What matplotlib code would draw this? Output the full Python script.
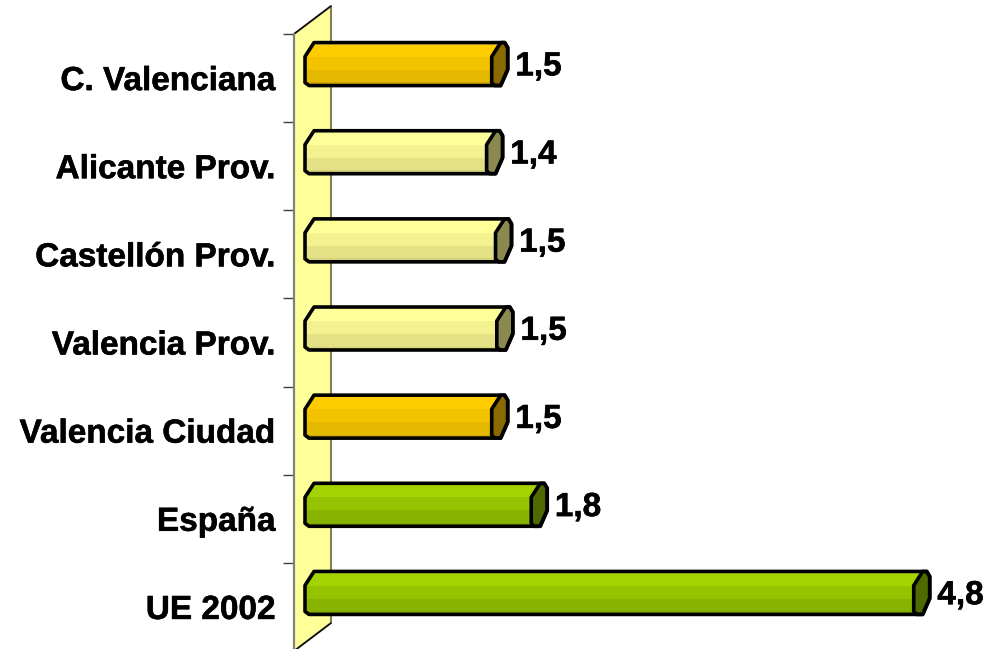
import numpy as np
import matplotlib
matplotlib.use('Agg')
import matplotlib.pyplot as plt
import matplotlib.patheffects as pe
from matplotlib.patches import Polygon

plt.rcParams['font.family'] = ['Liberation Sans', 'DejaVu Sans']

# Data
categories = ['C. Valenciana', 'Alicante Prov.', 'Castellón Prov.', 'Valencia Prov.',
              'Valencia Ciudad', 'España', 'UE 2002']
values = [1.48, 1.44, 1.51, 1.52, 1.48, 1.79, 4.79]
value_labels = ['1,5', '1,4', '1,5', '1,5', '1,5', '1,8', '4,8']
groups = ['orange', 'pale', 'pale', 'pale', 'orange', 'green', 'green']

# colours: bands from top to bottom, then end cap
bands = {
    'orange': ['#FFDB4D', '#FFCC00', '#F4C300', '#E4B900', '#D0A600'],
    'pale': ['#FFFFB0', '#FFFF99', '#F3F190', '#E3E086', '#D5D27A'],
    'green': ['#B4DE1E', '#A3D300', '#94C400', '#88B400', '#7FA800'],
}
caps = {'orange': '#8A6A00', 'pale': '#8A8A50', 'green': '#4F6B00'}

W, H = 985, 649
PX_X = 127.5   # pixels for one unit of value
PX_Y = 88.2    # pixels for one category

fig = plt.figure(figsize=(W / 100, H / 100), dpi=100)
# axes is the front plane of the chart
ax = fig.add_axes([294 / W, 1 - 651 / H, (W - 294) / W, 617 / H])
ax.set_xlim(-9 / PX_X, (W - 303) / PX_X)
ax.set_ylim(6.5, -0.5)


def dx(p):
    return p / PX_X


def dy(p):
    return p / PX_Y


# back wall
x0 = ax.get_xlim()[0]
wall = Polygon([(x0, -0.5), (x0 + dx(37), -0.5 - dy(28)),
                (x0 + dx(37), 6.5 - dy(28)), (x0, 6.5)],
               closed=True, facecolor='#FFFF99', edgecolor='#808060', lw=1.5,
               zorder=1, clip_on=False)
ax.add_patch(wall)
ax.plot([x0, x0 + dx(37)], [-0.5, -0.5 - dy(28)], color='black', lw=1, zorder=2, clip_on=False)
ax.plot([x0, x0 + dx(37)], [6.5, 6.5 - dy(28)], color='black', lw=1, zorder=2, clip_on=False)

# bars
base = dx(2)
shift = dy(14)
bar_h = dy(43)
heavy = [pe.withStroke(linewidth=0.4, foreground='black')]
for i, (v, g) in enumerate(zip(values, groups)):
    top = i - shift - bar_h / 2
    bot = top + bar_h
    cap_pts = [(v, top + dy(14)), (v + dx(9), top), (v + dx(13), top),
               (v + dx(16), top + dy(5)), (v + dx(16), top + dy(27)), (v + dx(9), bot),
               (v + dx(3), bot), (v, bot - dy(3))]
    outline = [(base, top + dy(14)), (base + dx(9), top)] + cap_pts[1:7] + \
              [(base + dx(4), bot), (base, bot - dy(3))]
    body = Polygon(outline, closed=True, facecolor='none', edgecolor='none')
    ax.add_patch(body)
    edges = np.array([0, 0.05, 0.33, 0.63, 0.92, 1.0]) * bar_h + top
    for k, c in enumerate(bands[g]):
        b = ax.barh(edges[k], v + dx(12) - base, height=edges[k + 1] - edges[k], left=base,
                    align='edge', color=c, linewidth=0, zorder=3)
        b[0].set_clip_path(body)
    cap = Polygon(cap_pts, closed=True, facecolor=caps[g], edgecolor='black', lw=2.6,
                  joinstyle='round', zorder=4)
    ax.add_patch(cap)
    edge = Polygon(outline, closed=True, facecolor='none', edgecolor='black', lw=2.6,
                   joinstyle='round', zorder=5)
    ax.add_patch(edge)
    t = ax.annotate(value_labels[i], xy=(v, i - shift), xytext=(17, -2),
                    textcoords='offset points', fontsize=24, fontweight='bold',
                    color='black', va='center', ha='left', zorder=6, annotation_clip=False)
    t.set_path_effects(heavy)

# axis
for s in ['top', 'right', 'bottom']:
    ax.spines[s].set_visible(False)
ax.spines['left'].set_color('#808080')
ax.spines['left'].set_linewidth(1.5)
ax.spines['left'].set_zorder(2)
ax.set_xticks([])
ax.set_yticks(np.arange(len(categories)))
ax.set_yticklabels(categories, fontsize=24, fontweight='bold')
for t in ax.get_yticklabels():
    t.set_path_effects(heavy)
ax.set_yticks(np.arange(len(categories) + 1) - 0.5, minor=True)
ax.tick_params(axis='y', which='major', length=0, pad=13)
ax.tick_params(axis='y', which='minor', length=8, width=1, color='#404040')
ax.patch.set_alpha(0)

fig.savefig('out.png', dpi=100)
